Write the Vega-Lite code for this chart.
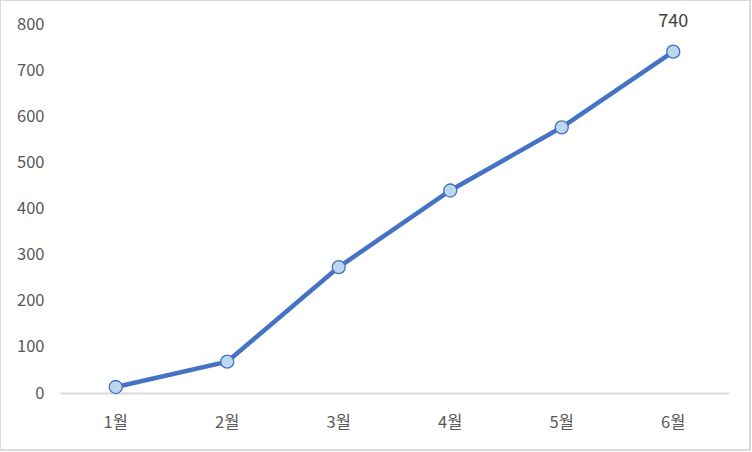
{
  "$schema": "https://vega.github.io/schema/vega-lite/v6.json",
  "width": 750,
  "height": 450,
  "autosize": "none",
  "padding": {"left": 0, "top": 0, "right": 2, "bottom": 2},
  "background": "white",
  "config": {
    "view": {"stroke": "#d9d9d9", "strokeWidth": 2},
    "font": "Noto Sans CJK KR"
  },
  "data": {
    "values": [
      {"month": "1월", "value": 13},
      {"month": "2월", "value": 68},
      {"month": "3월", "value": 273},
      {"month": "4월", "value": 439},
      {"month": "5월", "value": 576},
      {"month": "6월", "value": 740}
    ]
  },
  "encoding": {
    "x": {
      "field": "month",
      "type": "ordinal",
      "sort": null,
      "title": null,
      "scale": {"type": "band", "range": [60, 729], "paddingInner": 0, "paddingOuter": 0},
      "axis": {
        "offset": -57,
        "labelAngle": 0,
        "ticks": false,
        "domainColor": "#d9d9d9",
        "domainWidth": 2,
        "labelFont": "Noto Sans CJK KR",
        "labelFontSize": 16.5,
        "labelColor": "#595959",
        "labelPadding": 21
      }
    },
    "y": {
      "field": "value",
      "type": "quantitative",
      "title": null,
      "scale": {"domain": [0, 800], "range": [393, 24], "nice": false},
      "axis": {
        "offset": -60,
        "values": [0, 100, 200, 300, 400, 500, 600, 700, 800],
        "domain": false,
        "ticks": false,
        "grid": false,
        "labelFont": "Noto Sans CJK KR",
        "labelFontSize": 16.5,
        "labelColor": "#595959",
        "labelPadding": 16
      }
    }
  },
  "layer": [
    {"mark": {"type": "line", "color": "#4472C4", "strokeWidth": 4.5}},
    {"mark": {"type": "point", "filled": true, "fill": "#BDD7EE", "stroke": "#4472C4", "strokeWidth": 1.3, "size": 170, "opacity": 1}},
    {
      "transform": [{"filter": "datum.month == '6월'"}],
      "mark": {"type": "text", "dy": -30, "fontSize": 18, "color": "#404040", "font": "Noto Sans CJK KR"},
      "encoding": {"text": {"field": "value", "type": "quantitative"}}
    }
  ]
}
